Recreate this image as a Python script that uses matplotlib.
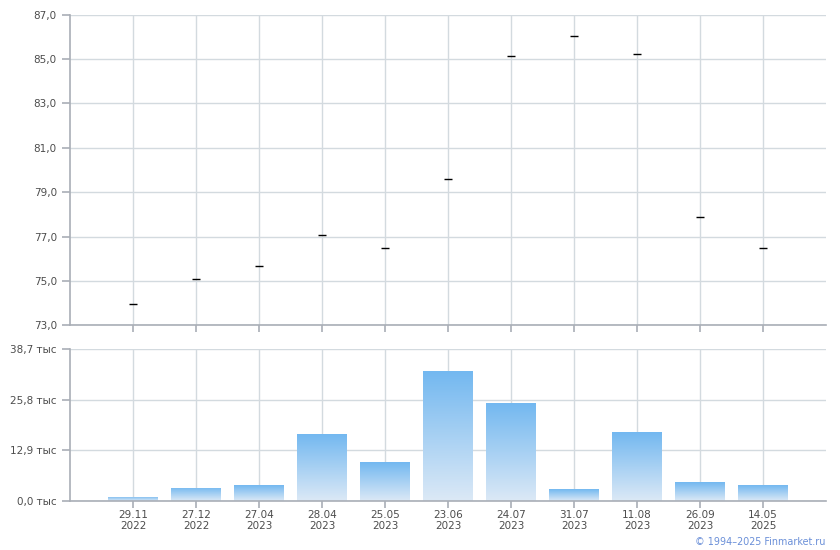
import numpy as np
import matplotlib
matplotlib.use('Agg')
import matplotlib.pyplot as plt
from matplotlib.colors import LinearSegmentedColormap

# данные
dates = ['29.11\n2022', '27.12\n2022', '27.04\n2023', '28.04\n2023', '25.05\n2023',
         '23.06\n2023', '24.07\n2023', '31.07\n2023', '11.08\n2023', '26.09\n2023',
         '14.05\n2025']
price = [73.95, 75.08, 75.67, 77.06, 76.48, 79.59, 85.13, 86.03, 85.22, 77.87, 76.48]
volume = [1.1, 3.4, 4.07, 17.05, 9.92, 33.08, 24.94, 3.05, 17.56, 4.83, 4.07]  # тыс

price_ticks = [73, 75, 77, 79, 81, 83, 85, 87]
vol_ticks = [0.0, 12.9, 25.8, 38.7]

GRID = '#d3dadf'
SPINE = '#a9aeb6'
TXT = '#4d4d4d'

plt.rcParams['font.family'] = ['DejaVu Sans']
plt.rcParams['font.size'] = 7.5

fig = plt.figure(figsize=(8.4, 5.5), dpi=100)
ax1 = fig.add_axes([0.0833, 0.4082, 0.9, 0.5651])
ax2 = fig.add_axes([0.0833, 0.0891, 0.9, 0.2759])

xs = np.arange(len(dates))

def style(ax):
    ax.set_xlim(-1, 11)
    for s in ['top', 'right']:
        ax.spines[s].set_visible(False)
    for s in ['left', 'bottom']:
        ax.spines[s].set_color(SPINE)
        ax.spines[s].set_linewidth(1.2)
    ax.set_xticks(xs)
    ax.grid(True, color=GRID, linewidth=1.0)
    ax.set_axisbelow(True)
    ax.tick_params(colors=SPINE, labelcolor=TXT, length=6, width=1.2)
    ax.tick_params(axis='x', length=5, pad=1.5)

# верхний график: цена
style(ax1)
ax1.plot(xs, price, linestyle='none', marker='_', markersize=6, mew=1.0, color='black')
ax1.set_ylim(73, 87)
ax1.set_yticks(price_ticks)
ax1.set_yticklabels([f'{v:.1f}'.replace('.', ',') for v in price_ticks])
ax1.set_xticklabels([])

# нижний график: объём
style(ax2)
ax2.set_ylim(0, 38.7)
ax2.set_yticks(vol_ticks)
ax2.set_yticklabels([f'{v:.1f} тыс'.replace('.', ',') for v in vol_ticks])
ax2.set_xticklabels(dates, linespacing=1.15)

cmap = LinearSegmentedColormap.from_list('g', ['#dce9f6', '#73b8f0'])
grad = np.linspace(0, 1, 256).reshape(-1, 1)
w = 0.79
bars = ax2.bar(xs, volume, width=w, color='none', linewidth=0)
for b, v in zip(bars, volume):
    x0 = b.get_x()
    im = ax2.imshow(grad, cmap=cmap, origin='lower', aspect='auto',
                    extent=[x0, x0 + w, 0, v], zorder=2)
    im.set_clip_path(b)
ax2.set_xlim(-1, 11)
ax2.set_ylim(0, 38.7)

fig.text(0.983, 0.005, '© 1994–2025 Finmarket.ru', ha='right', va='bottom',
         color='#6a8fd8', fontsize=6.9)

fig.savefig('out.png', dpi=100)
